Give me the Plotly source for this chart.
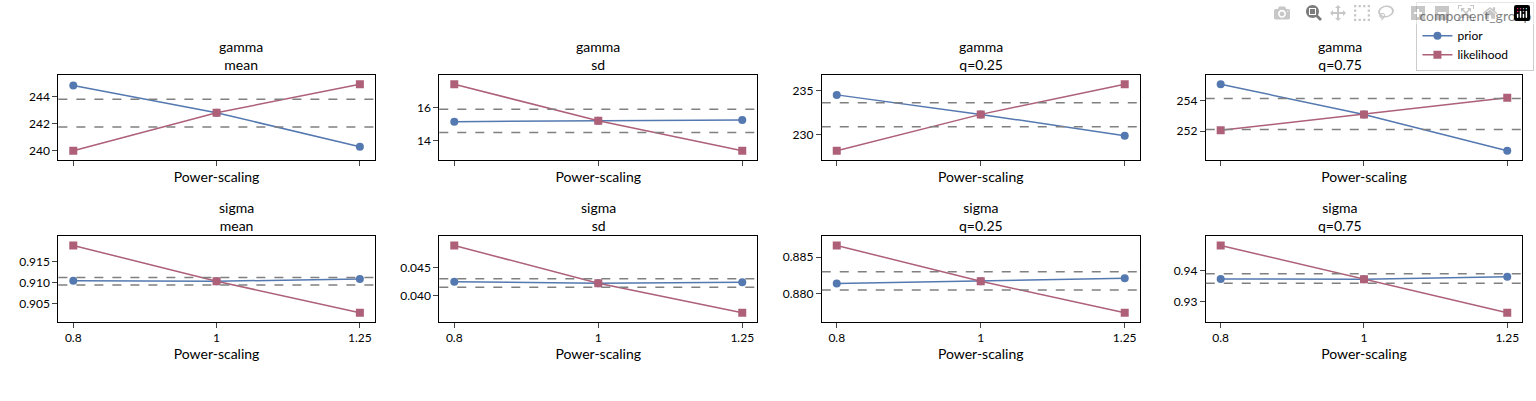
import numpy as np
import plotly.graph_objects as go
from plotly.subplots import make_subplots

alphas = [0.8, 1, 1.25]
titles = ["gamma<br>mean", "gamma<br>sd", "gamma<br>q=0.25", "gamma<br>q=0.75",
          "sigma<br>mean", "sigma<br>sd", "sigma<br>q=0.25", "sigma<br>q=0.75"]

prior = [
    [244.8, 242.8, 240.3],
    [15.15, 15.2, 15.25],
    [234.5, 232.3, 229.9],
    [255.1, 253.1, 250.7],
    [0.9104, 0.9103, 0.9108],
    [0.0425, 0.0422, 0.0424],
    [0.8814, 0.8817, 0.8821],
    [0.9374, 0.9373, 0.9381],
]
likelihood = [
    [240.0, 242.8, 244.9],
    [17.4, 15.2, 13.4],
    [228.2, 232.3, 235.7],
    [252.05, 253.1, 254.2],
    [0.9188, 0.9103, 0.9028],
    [0.0489, 0.0422, 0.0370],
    [0.8866, 0.8817, 0.8774],
    [0.9482, 0.9373, 0.9265],
]
bounds = [
    [243.8, 241.75],
    [15.9, 14.5],
    [233.6, 230.9],
    [254.15, 252.1],
    [0.9112, 0.9094],
    [0.0430, 0.0415],
    [0.8830, 0.8805],
    [0.9391, 0.9360],
]
yticks = [
    [240, 242, 244], [14, 16], [230, 235], [252, 254],
    [0.905, 0.910, 0.915], [0.040, 0.045], [0.880, 0.885], [0.930, 0.940],
]
yformats = ["d", "d", "d", "d", ".3f", ".3f", ".3f", ".2f"]

c_prior = "#5478b0"
c_lik = "#ad6078"
font = "Lato"

fig = make_subplots(rows=2, cols=4)
xdom = [(0.038, 0.244), (0.286, 0.493), (0.535, 0.742), (0.785, 0.991)]
ydom = [(0.601, 0.813), (0.197, 0.411)]

for i in range(8):
    r, c = i // 4 + 1, i % 4 + 1
    fig.add_trace(go.Scatter(x=alphas, y=prior[i], mode="lines+markers", name="prior",
                             line=dict(color=c_prior, width=1.5),
                             marker=dict(color=c_prior, size=8, symbol="circle"),
                             showlegend=(i == 0)), row=r, col=c)
    fig.add_trace(go.Scatter(x=alphas, y=likelihood[i], mode="lines+markers", name="likelihood",
                             line=dict(color=c_lik, width=1.5),
                             marker=dict(color=c_lik, size=8, symbol="square"),
                             showlegend=(i == 0)), row=r, col=c)
    for b in bounds[i]:
        fig.add_hline(y=b, line=dict(color="gray", dash="dash", width=1.5), row=r, col=c)
    fig.update_xaxes(type="log", range=[-0.107, 0.107], tickvals=alphas,
                     ticktext=["0.8", "1", "1.25"] if r == 2 else ["", "", ""],
                     domain=xdom[c - 1], title=dict(text="Power-scaling", standoff=4),
                     showline=True, mirror=True, linecolor="black", ticks="outside",
                     showgrid=False, zeroline=False, row=r, col=c)
    fig.update_yaxes(domain=ydom[r - 1], tickvals=yticks[i], tickformat=yformats[i],
                     showline=True, mirror=True, linecolor="black", ticks="outside",
                     showgrid=False, zeroline=False, row=r, col=c)
    fig.add_annotation(text=titles[i], x=(xdom[c - 1][0] + xdom[c - 1][1]) / 2,
                       y=ydom[r - 1][1], xref="paper", yref="paper", yanchor="bottom",
                       showarrow=False, font=dict(size=14, family=font, color="black"))

fig.update_layout(
    width=1536, height=401, margin=dict(l=0, r=0, t=0, b=0),
    plot_bgcolor="white", paper_bgcolor="white",
    font=dict(family=font, size=12, color="black"),
    legend=dict(title=dict(text="component_group"), x=0.999, y=0.995,
                xanchor="right", yanchor="top", bordercolor="#cccccc", borderwidth=1,
                bgcolor="rgba(255,255,255,0.8)"),
)
fig.write_html("out.html")

# drop the default page margin so the figure fills the window
with open("out.html") as f:
    html = f.read()
html = html.replace("<body>", '<body style="margin:0;overflow:hidden">', 1)
with open("out.html", "w") as f:
    f.write(html)
